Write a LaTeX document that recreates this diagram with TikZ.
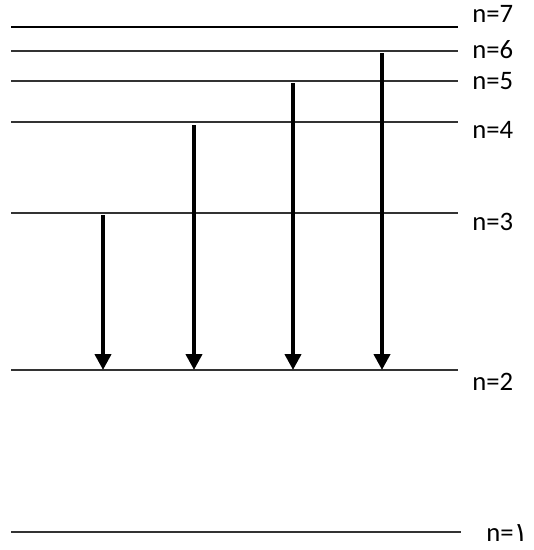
\documentclass[tikz,border=0pt]{standalone}
\usepackage{fontspec}
\setmainfont{Carlito}
\newfontfamily\arabicfont[Script=Arabic]{DejaVu Sans}
\usetikzlibrary{arrows.meta}
\begin{document}
\begin{tikzpicture}[x=0.75pt,y=-0.75pt,
  level/.style={draw=black!80,line width=0.9pt},
  toplevel/.style={draw=black,line width=1.6pt},
  lbl/.style={anchor=west,inner sep=0pt,font=\fontsize{20}{24}\selectfont},
  transition/.style={draw=black,line width=3pt,-{Triangle[length=12pt,width=12pt]}}]
\useasboundingbox (0,0) rectangle (533,550);
% energy levels
\draw[toplevel] (11,27) -- (458,27);
\draw[level] (11,51) -- (458,51);
\draw[level] (11,81) -- (458,81);
\draw[level] (11,122) -- (458,122);
\draw[level] (11,213) -- (458,213);
\draw[level] (11,370) -- (458,370);
\draw[level] (11,532) -- (461,532);
% level labels
\node[lbl] (l7) at (472,14) {n=7};
\node[lbl] (l6) at (472,50) {n=6};
\node[lbl] (l5) at (472,81) {n=5};
\node[lbl] (l4) at (472,130) {n=4};
\node[lbl] (l3) at (472,222) {n=3};
\node[lbl] (l2) at (472,382) {n=2};
\node[lbl,anchor=base west] (l1) at (486,541) {n={\arabicfont ١}};
% transition end points
\coordinate (s3) at (103,215);
\coordinate (e3) at (103,370);
\coordinate (s4) at (194,125);
\coordinate (e4) at (194,370);
\coordinate (s5) at (293,83);
\coordinate (e5) at (293,370);
\coordinate (s6) at (382,53);
\coordinate (e6) at (382,370);
% Balmer transitions
\draw[transition] (s3) -- (e3);
\draw[transition] (s4) -- (e4);
\draw[transition] (s5) -- (e5);
\draw[transition] (s6) -- (e6);
\end{tikzpicture}
\end{document}
